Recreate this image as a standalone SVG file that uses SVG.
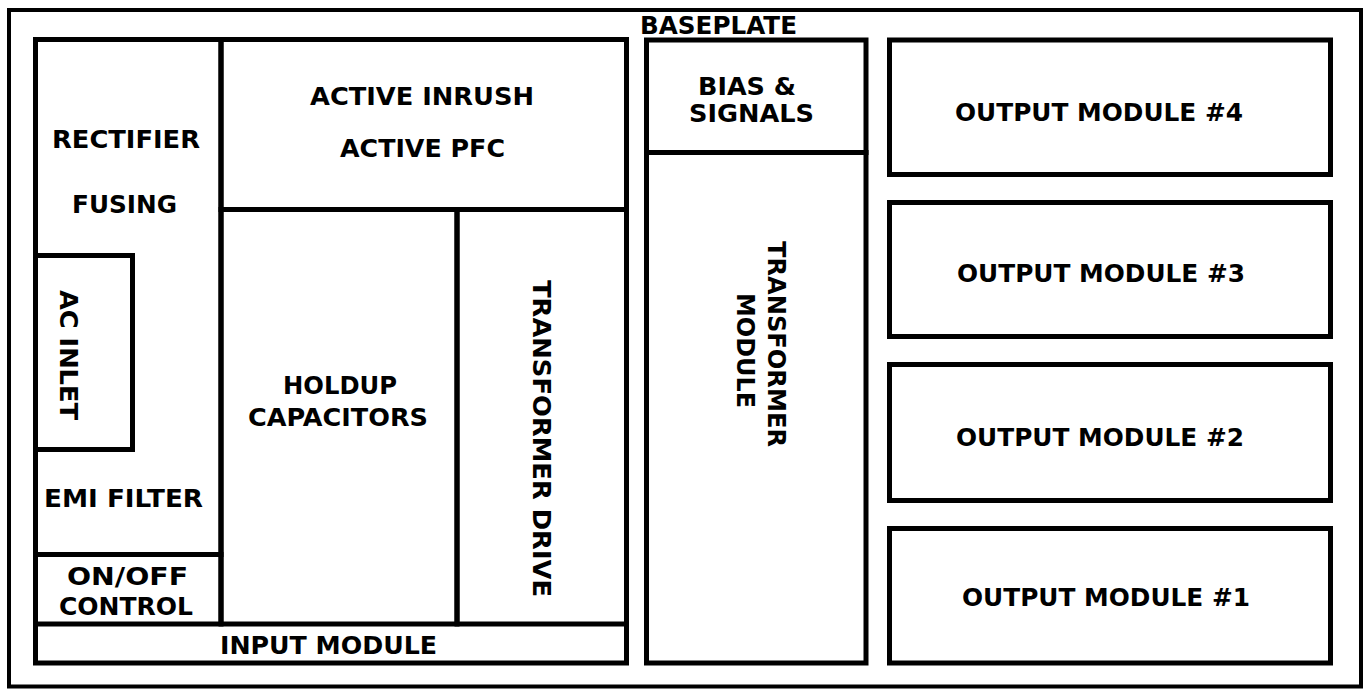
<svg xmlns="http://www.w3.org/2000/svg" width="1366" height="689" viewBox="0 0 1366 689">
<style>
.box{fill:none;stroke:#000;stroke-width:5}
.outer{fill:none;stroke:#000;stroke-width:4}
.t{font-family:"DejaVu Sans","Liberation Sans",sans-serif;font-weight:bold;font-size:24px;fill:#000;text-anchor:middle}
</style>
<rect x="0" y="0" width="1366" height="689" fill="#fff"/>
<g id="baseplate">
<rect class="outer" x="9" y="10" width="1352" height="676.5"/>
<text class="t" x="718.5" y="34" textLength="157" lengthAdjust="spacingAndGlyphs">BASEPLATE</text>
</g>
<g id="input-module">
<rect class="box" x="35.5" y="39.5" width="591" height="623.5"/>
<text class="t" x="328.5" y="653.5" textLength="217" lengthAdjust="spacingAndGlyphs">INPUT MODULE</text>
</g>
<g id="rectifier-fusing-emi">
<rect class="box" x="35.5" y="39.5" width="185.5" height="515"/>
<text class="t" x="126" y="147.5" textLength="148" lengthAdjust="spacingAndGlyphs">RECTIFIER</text>
<text class="t" x="124.5" y="212.5" textLength="105" lengthAdjust="spacingAndGlyphs">FUSING</text>
<text class="t" x="123.5" y="506.5" textLength="159" lengthAdjust="spacingAndGlyphs">EMI FILTER</text>
</g>
<g id="ac-inlet">
<rect class="box" x="35.5" y="255.5" width="97" height="194"/>
<text class="t" transform="translate(68,355) rotate(90)" x="0" y="8.5" textLength="130" lengthAdjust="spacingAndGlyphs">AC INLET</text>
</g>
<g id="on-off-control">
<rect class="box" x="35.5" y="554.5" width="185.5" height="69.5"/>
<text class="t" x="127.5" y="584.5" textLength="121" lengthAdjust="spacingAndGlyphs">ON/OFF</text>
<text class="t" x="126" y="614.5" textLength="134" lengthAdjust="spacingAndGlyphs">CONTROL</text>
</g>
<g id="active-inrush-pfc">
<rect class="box" x="221" y="39.5" width="405.5" height="170"/>
<text class="t" x="422" y="105" textLength="224" lengthAdjust="spacingAndGlyphs">ACTIVE INRUSH</text>
<text class="t" x="422.5" y="156.5" textLength="165" lengthAdjust="spacingAndGlyphs">ACTIVE PFC</text>
</g>
<g id="holdup-capacitors">
<rect class="box" x="221" y="209.5" width="236" height="414.5"/>
<text class="t" x="340" y="393.5" textLength="114" lengthAdjust="spacingAndGlyphs">HOLDUP</text>
<text class="t" x="338" y="425.5" textLength="180" lengthAdjust="spacingAndGlyphs">CAPACITORS</text>
</g>
<g id="transformer-drive">
<rect class="box" x="457" y="209.5" width="169.5" height="414.5"/>
<text class="t" transform="translate(541,438.5) rotate(90)" x="0" y="8.5" textLength="317" lengthAdjust="spacingAndGlyphs">TRANSFORMER DRIVE</text>
</g>
<g id="bias-signals">
<rect class="box" x="646.5" y="40" width="219.5" height="112.5"/>
<text class="t" x="747" y="94.5" textLength="98" lengthAdjust="spacingAndGlyphs">BIAS &amp;</text>
<text class="t" x="751.5" y="121.5" textLength="125" lengthAdjust="spacingAndGlyphs">SIGNALS</text>
</g>
<g id="transformer-module">
<rect class="box" x="646.5" y="152.5" width="219.5" height="510.5"/>
<text class="t" transform="translate(776,344) rotate(90)" x="0" y="8.5" textLength="206" lengthAdjust="spacingAndGlyphs">TRANSFORMER</text>
<text class="t" transform="translate(745,350.5) rotate(90)" x="0" y="8.5" textLength="115" lengthAdjust="spacingAndGlyphs">MODULE</text>
</g>
<g id="output-module-4">
<rect class="box" x="889.5" y="40" width="441" height="134.5"/>
<text class="t" x="1099" y="120.5" textLength="288" lengthAdjust="spacingAndGlyphs">OUTPUT MODULE #4</text>
</g>
<g id="output-module-3">
<rect class="box" x="889.5" y="202.5" width="441" height="134"/>
<text class="t" x="1101" y="281.5" textLength="288" lengthAdjust="spacingAndGlyphs">OUTPUT MODULE #3</text>
</g>
<g id="output-module-2">
<rect class="box" x="889.5" y="364.5" width="441" height="136"/>
<text class="t" x="1100" y="445.5" textLength="288" lengthAdjust="spacingAndGlyphs">OUTPUT MODULE #2</text>
</g>
<g id="output-module-1">
<rect class="box" x="889.5" y="528.5" width="441" height="134.5"/>
<text class="t" x="1106" y="605.5" textLength="288" lengthAdjust="spacingAndGlyphs">OUTPUT MODULE #1</text>
</g>
<g id="connectors"></g>
</svg>
